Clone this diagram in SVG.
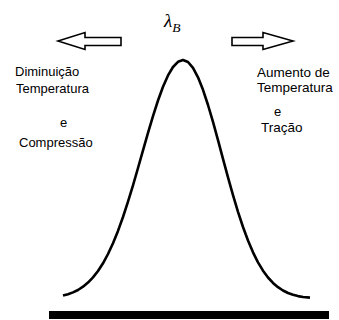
<svg xmlns="http://www.w3.org/2000/svg" width="339" height="320" viewBox="0 0 339 320">
<style>
.t{font-family:"Liberation Sans",Arial,sans-serif;font-size:13px;fill:#000}
.r{font-size:13.5px}
.arr{fill:#fff;stroke:#000;stroke-width:1.6;stroke-linejoin:miter}
.curve{fill:none;stroke:#000;stroke-width:2.6;stroke-linejoin:round;stroke-linecap:butt}
</style>
<rect width="339" height="320" fill="#fff"/>
<g id="title">
<text x="164" y="27" font-family="'Liberation Serif',serif" font-style="italic" font-size="19">λ<tspan font-size="13.5" dy="4.5">B</tspan></text>
</g>
<g id="arrow-left">
<polygon class="arr" points="58,41 85,32.5 85,37.5 121,37.5 121,45.5 85,45.5 85,49.5"/>
</g>
<g id="arrow-right">
<polygon class="arr" points="293,41 263,32.5 263,37.5 232,37.5 232,45.5 263,45.5 263,49.5"/>
</g>
<g id="left-label">
<text class="t" x="15" y="76">Diminuição</text>
<text class="t" x="16" y="93">Temperatura</text>
<text class="t" x="60" y="127">e</text>
<text class="t" x="19" y="147">Compressão</text>
</g>
<g id="right-label">
<text class="t r" x="257" y="77">Aumento de</text>
<text class="t r" x="257" y="92">Temperatura</text>
<text class="t" x="274" y="115.5" font-size="19.5">e</text>
<text class="t r" x="261" y="132">Tração</text>
</g>
<g id="curve">
<polyline class="curve" points="63,295.6 68,294.3 73,292.4 78,290.0 83,286.7 88,282.6 93,277.4 98,271.0 103,263.3 108,254.0 113,243.2 118,230.9 123,217.0 128,201.7 133,185.3 138,168.0 143,150.4 148,132.9 153,116.1 158,100.5 163,86.8 168,75.4 173,67.0 178,61.8 183,60 188,62.0 193,67.8 198,77.3 203,89.8 208,105.0 213,121.9 218,140.1 223,158.8 228,177.3 233,195.1 238,211.8 243,227.0 248,240.5 253,252.3 258,262.3 263,270.7 268,277.5 273,282.9 278,287.2 283,290.5 288,293.0 293,294.8 298,296.1 303,297.0 310,297.6"/>
</g>
<g id="base">
<rect x="49" y="311" width="280" height="8" fill="#000"/>
</g>
</svg>
